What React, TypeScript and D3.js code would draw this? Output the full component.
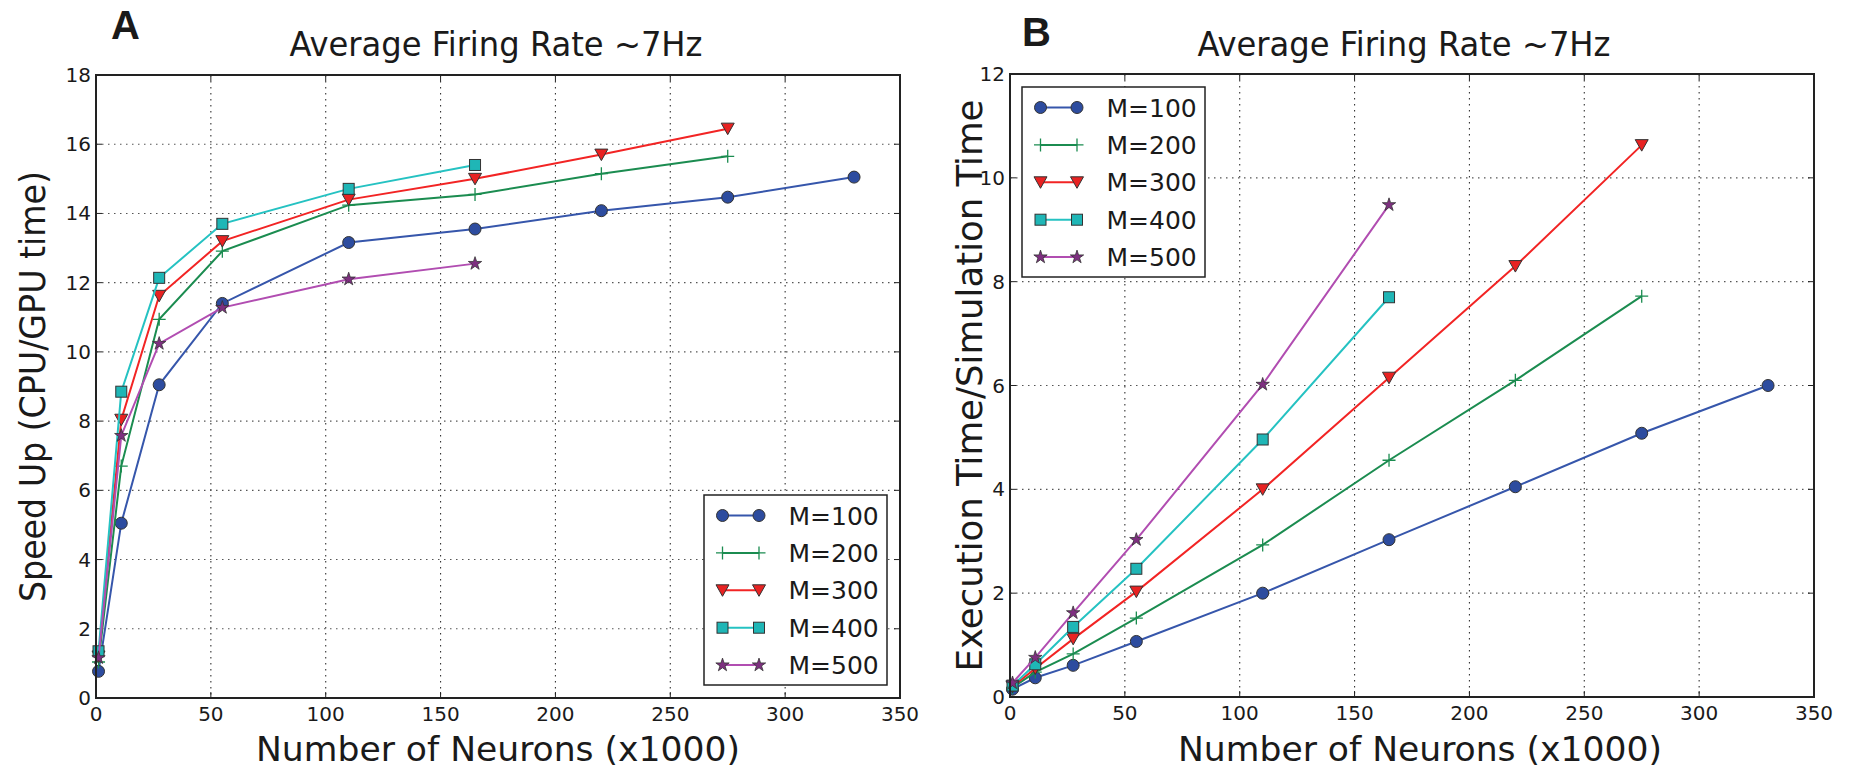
import React from 'react';
import * as d3 from 'd3';

// number of neurons (x1000) at each simulated size
const neurons = [1.1, 11, 27.5, 55, 110, 165, 220, 275, 330];
const seriesNames = ['M=100', 'M=200', 'M=300', 'M=400', 'M=500'];

// panel A: speed up (CPU/GPU time)
const speedM100 = [0.77, 5.05, 9.05, 11.4, 13.16, 13.55, 14.08, 14.47, 15.05];
const speedM200 = [1.04, 6.7, 10.94, 12.91, 14.24, 14.55, 15.15, 15.65];
const speedM300 = [1.2, 8.04, 11.62, 13.2, 14.4, 15.0, 15.7, 16.45];
const speedM400 = [1.35, 8.85, 12.14, 13.7, 14.71, 15.4];
const speedM500 = [1.16, 7.58, 10.24, 11.28, 12.1, 12.55];

// panel B: execution time / simulation time
const execM100 = [0.15, 0.37, 0.61, 1.07, 2.0, 3.03, 4.05, 5.08, 6.0];
const execM200 = [0.18, 0.48, 0.83, 1.52, 2.93, 4.56, 6.1, 7.72];
const execM300 = [0.2, 0.55, 1.12, 2.03, 4.0, 6.15, 8.3, 10.63];
const execM400 = [0.22, 0.63, 1.35, 2.47, 4.96, 7.7];
const execM500 = [0.27, 0.76, 1.62, 3.03, 6.02, 9.48];

const xTicks = [0, 50, 100, 150, 200, 250, 300, 350];
const speedTicks = [0, 2, 4, 6, 8, 10, 12, 14, 16, 18];
const execTicks = [0, 2, 4, 6, 8, 10, 12];

const titleText = 'Average Firing Rate ~7Hz';
const xLabelText = 'Number of Neurons (x1000)';

// line + marker look per series (matplotlib b, g, r, c, m)
const styles = [
  { line: '#3656ab', fill: '#2d4c9f', marker: 'circle' },
  { line: '#1b8c50', fill: '#1b8c50', marker: 'plus' },
  { line: '#f22424', fill: '#e82222', marker: 'tri' },
  { line: '#25c2c2', fill: '#1fb6b6', marker: 'square' },
  { line: '#b14db1', fill: '#7e2f80', marker: 'star' },
];

const condensed = "'Liberation Sans Narrow', 'DejaVu Sans Condensed', 'Open Sans', sans-serif";
const tickFont = "'DejaVu Sans', sans-serif";
const edge = '#333';

function Marker({ kind, x, y, color }: { kind: string; x: number; y: number; color: string }) {
  if (kind === 'circle') {
    return <circle cx={x} cy={y} r={6} fill={color} stroke={edge} strokeWidth={1} />;
  }
  if (kind === 'plus') {
    return <path d={`M${x - 6.5},${y}H${x + 6.5}M${x},${y - 6.5}V${y + 6.5}`} stroke={color} strokeWidth={1.3} fill="none" />;
  }
  if (kind === 'tri') {
    return <path d={`M${x - 6.5},${y - 5.5}L${x + 6.5},${y - 5.5}L${x},${y + 6}Z`} fill={color} stroke={edge} strokeWidth={1} />;
  }
  if (kind === 'square') {
    return <rect x={x - 5.5} y={y - 5.5} width={11} height={11} fill={color} stroke={edge} strokeWidth={1} />;
  }
  const star = d3.symbol(d3.symbolStar, 55)();
  return <path d={star || ''} transform={`translate(${x},${y})`} fill={color} stroke={edge} strokeWidth={0.8} />;
}

type PanelProps = {
  left: number; right: number; top: number; bottom: number;
  yMax: number; yTicks: number[]; series: number[][];
  yLabel: string; yLabelX: number; yLabelLen: number;
  letter: string; letterX: number; letterY: number;
  titleX: number; xLabelX: number;
  legendX: number; legendY: number;
};

function Panel(p: PanelProps) {
  const x = d3.scaleLinear().domain([0, 350]).range([p.left, p.right]);
  const y = d3.scaleLinear().domain([0, p.yMax]).range([p.bottom, p.top]);
  const line = d3.line<[number, number]>().x(d => x(d[0])).y(d => y(d[1]));
  const tick = 6;
  const midY = (p.top + p.bottom) / 2;

  return (
    <g>
      {/* grid */}
      {xTicks.slice(1, -1).map(t => (
        <line key={'gx' + t} x1={x(t)} x2={x(t)} y1={p.top} y2={p.bottom}
          stroke="#333" strokeWidth={1.1} strokeDasharray="1.5 4.5" />
      ))}
      {p.yTicks.slice(1, -1).map(t => (
        <line key={'gy' + t} x1={p.left} x2={p.right} y1={y(t)} y2={y(t)}
          stroke="#555" strokeWidth={1.1} strokeDasharray="1.5 4.5" />
      ))}
      {/* inward ticks on all sides */}
      {xTicks.map(t => (
        <g key={'tx' + t} stroke="#222" strokeWidth={1}>
          <line x1={x(t)} x2={x(t)} y1={p.bottom} y2={p.bottom - tick} />
          <line x1={x(t)} x2={x(t)} y1={p.top} y2={p.top + tick} />
        </g>
      ))}
      {p.yTicks.map(t => (
        <g key={'ty' + t} stroke="#222" strokeWidth={1}>
          <line x1={p.left} x2={p.left + tick} y1={y(t)} y2={y(t)} />
          <line x1={p.right} x2={p.right - tick} y1={y(t)} y2={y(t)} />
        </g>
      ))}
      {/* series */}
      {p.series.map((vals, i) => {
        const pts = vals.map((v, j) => [neurons[j], v] as [number, number]);
        const st = styles[i];
        return (
          <g key={'s' + i}>
            <path d={line(pts) || ''} fill="none" stroke={st.line} strokeWidth={2} />
            {pts.map((d, j) => (
              <Marker key={j} kind={st.marker} x={x(d[0])} y={y(d[1])} color={st.fill} />
            ))}
          </g>
        );
      })}
      {/* frame */}
      <rect x={p.left} y={p.top} width={p.right - p.left} height={p.bottom - p.top}
        fill="none" stroke="#222" strokeWidth={2} />
      {/* tick labels */}
      {xTicks.map(t => (
        <text key={'lx' + t} x={x(t)} y={p.bottom + 23} textAnchor="middle"
          fontFamily={tickFont} fontSize={20} fill="#1a1a1a">{t}</text>
      ))}
      {p.yTicks.map(t => (
        <text key={'ly' + t} x={p.left - 5} y={y(t) + 7} textAnchor="end"
          fontFamily={tickFont} fontSize={20} fill="#1a1a1a">{t}</text>
      ))}
      {/* legend */}
      <g>
        <rect x={p.legendX} y={p.legendY} width={183} height={190} fill="#fff" stroke="#222" strokeWidth={1.5} />
        {seriesNames.map((name, i) => {
          const ry = p.legendY + 20.5 + i * 37.4;
          const x1 = p.legendX + 18.5;
          const x2 = p.legendX + 55;
          const st = styles[i];
          return (
            <g key={'lg' + i}>
              <line x1={x1} x2={x2} y1={ry} y2={ry} stroke={st.line} strokeWidth={2} />
              <Marker kind={st.marker} x={x1} y={ry} color={st.fill} />
              <Marker kind={st.marker} x={x2} y={ry} color={st.fill} />
              <text x={p.legendX + 84.5} y={ry + 9} fontFamily={tickFont} fontSize={25} fill="#1a1a1a">{name}</text>
            </g>
          );
        })}
      </g>
      {/* title, labels */}
      <text x={p.titleX} y={56} textAnchor="middle" fontFamily={condensed} fontSize={33}
        textLength={413} lengthAdjust="spacingAndGlyphs" fill="#1a1a1a">{titleText}</text>
      <text x={p.xLabelX} y={761} textAnchor="middle" fontFamily={condensed} fontSize={34}
        textLength={484} lengthAdjust="spacingAndGlyphs" fill="#1a1a1a">{xLabelText}</text>
      <text transform={`translate(${p.yLabelX},${midY}) rotate(-90)`} textAnchor="middle"
        fontFamily={condensed} fontSize={36} textLength={p.yLabelLen} lengthAdjust="spacingAndGlyphs"
        fill="#1a1a1a">{p.yLabel}</text>
      <text x={p.letterX} y={p.letterY} fontFamily="'Liberation Sans', Arial, sans-serif" fontWeight="bold"
        fontSize={40} fill="#1a1a1a">{p.letter}</text>
    </g>
  );
}

export default function App() {
  return (
    <svg width={1850} height={771} style={{ position: 'absolute', left: 0, top: 0, background: '#fff' }}>
      <rect width={1850} height={771} fill="#fff" />
      <Panel left={96} right={900} top={75} bottom={698} yMax={18} yTicks={speedTicks}
        series={[speedM100, speedM200, speedM300, speedM400, speedM500]}
        yLabel="Speed Up (CPU/GPU time)" yLabelX={45} yLabelLen={431}
        letter="A" letterX={111} letterY={39} titleX={496} xLabelX={498}
        legendX={704} legendY={495} />
      <Panel left={1010} right={1814} top={74} bottom={697} yMax={12} yTicks={execTicks}
        series={[execM100, execM200, execM300, execM400, execM500]}
        yLabel="Execution Time/Simulation Time" yLabelX={982} yLabelLen={572}
        letter="B" letterX={1022} letterY={46} titleX={1404} xLabelX={1420}
        legendX={1022} legendY={87} />
    </svg>
  );
}
